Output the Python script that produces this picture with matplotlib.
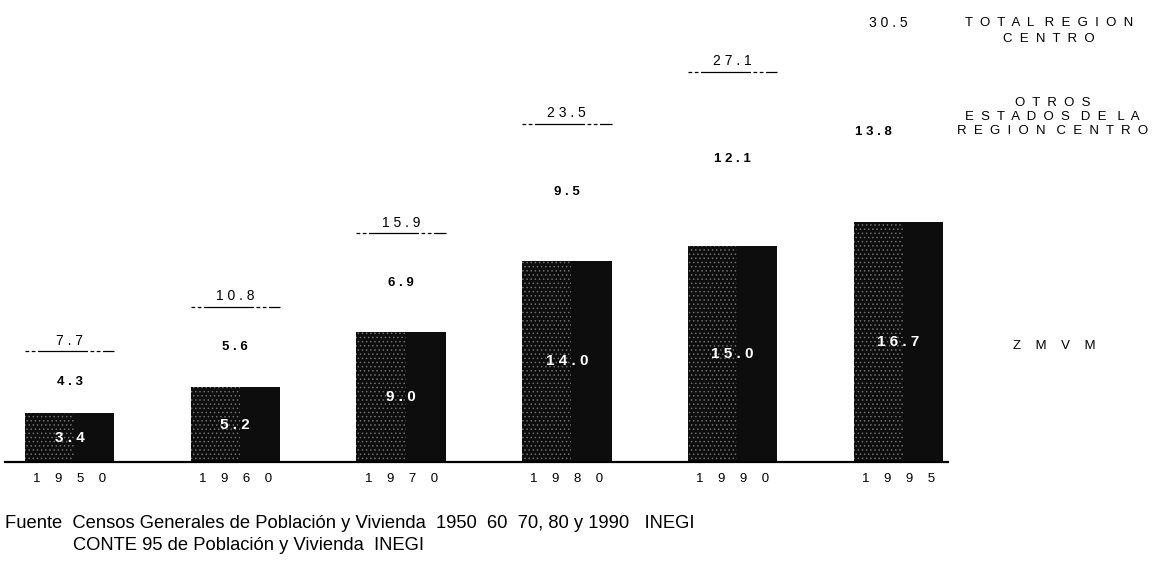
import matplotlib
matplotlib.use("Agg")
import matplotlib.pyplot as plt
import numpy as np

# Población (millones): ZMVM, otros estados de la región centro y total
years = [1950, 1960, 1970, 1980, 1990, 1995]
zmvm = [3.4, 5.2, 9.0, 14.0, 15.0, 16.7]
otros = [4.3, 5.6, 6.9, 9.5, 12.1, 13.8]
total = [7.7, 10.8, 15.9, 23.5, 27.1, 30.5]

legend_total = "TOTAL REGION\nCENTRO"
legend_otros = "OTROS\nESTADOS DE LA\nREGION CENTRO"
legend_zmvm = "ZMVM"

source_lines = [
    "Fuente  Censos Generales de Población y Vivienda  1950  60  70, 80 y 1990   INEGI",
    "CONTE 95 de Población y Vivienda  INEGI",
]


def spaced(s, gap=" "):
    # separa cada letra, como en el original
    return "\n".join(gap.join(w for w in line).replace(gap + " " + gap, gap + " ")
                     for line in s.split("\n"))


plt.rcParams['font.family'] = ['Liberation Sans', 'DejaVu Sans']
plt.rcParams['hatch.linewidth'] = 0.6

fig = plt.figure(figsize=(11.66, 5.65), dpi=100, facecolor='w')
ax = fig.add_axes([5 / 1166, 103 / 565, 943 / 1166, 462 / 565])

x = np.arange(len(years))
width = 0.54
ax.bar(x, zmvm, width=width, color='#0d0d0d', linewidth=0)
# textura moteada en la mitad izquierda de las barras
ax.bar(x - width / 2, zmvm, width=width * 0.55, align='edge', color='none',
       edgecolor='#6e6e6e', hatch='....', linewidth=0)

last = len(years) - 1
for i in x:
    # valor ZMVM dentro de la barra
    ax.text(i, zmvm[i] / 2, spaced(f"{zmvm[i]:.1f}"), color='white',
            ha='center', va='center', fontsize=11, fontweight='bold')
    if i == last:
        continue
    # otros estados, a media altura del tramo
    ax.text(i, zmvm[i] + otros[i] / 2, spaced(f"{otros[i]:.1f}"),
            ha='center', va='center', fontsize=9.5, fontweight='bold')
    # total con subrayado
    ax.hlines(total[i], i - width / 2, i + width / 2, color='black', lw=0.9,
              linestyles=(0, (3, 2, 3, 2, 40, 2)))
    ax.text(i, total[i] + 0.25, spaced(f"{total[i]:.1f}"),
            ha='center', va='bottom', fontsize=10)

# etiquetas del último año junto a la leyenda
y_otros_last = zmvm[last] + otros[last] * 0.45
ax.text(last - 0.06, total[last], spaced(f"{total[last]:.1f}"),
        ha='center', va='center', fontsize=10, clip_on=False)
ax.text(last - 0.15, y_otros_last, spaced(f"{otros[last]:.1f}"),
        ha='center', va='center', fontsize=9.5, fontweight='bold')

ax.text(5.91, total[last] - 0.55, spaced(legend_total, "  "),
        ha='center', va='center', fontsize=9.5, linespacing=1.45, clip_on=False)
ax.text(5.93, y_otros_last + 1.05, spaced(legend_otros, "  "),
        ha='center', va='center', fontsize=9.5, linespacing=1.25, clip_on=False)
ax.text(5.94, zmvm[last] / 2 - 0.3, spaced(legend_zmvm, "    "),
        ha='center', va='center', fontsize=9.5, clip_on=False)

ax.set_xlim(-0.39, 5.30)
ax.set_ylim(0, 32.1)
ax.set_xticks(x)
ax.set_xticklabels([spaced(str(y), "    ") for y in years], fontsize=9.5)
ax.tick_params(axis='x', length=0, pad=8)
ax.set_yticks([])
for side in ['top', 'right', 'left']:
    ax.spines[side].set_visible(False)
ax.spines['bottom'].set_linewidth(1.6)

fig.text(5 / 1166, 1 - 524 / 565, source_lines[0], fontsize=13.2, va='center')
fig.text(73 / 1166, 1 - 545 / 565, source_lines[1], fontsize=13.2, va='center')

fig.savefig("out.png", dpi=100)
